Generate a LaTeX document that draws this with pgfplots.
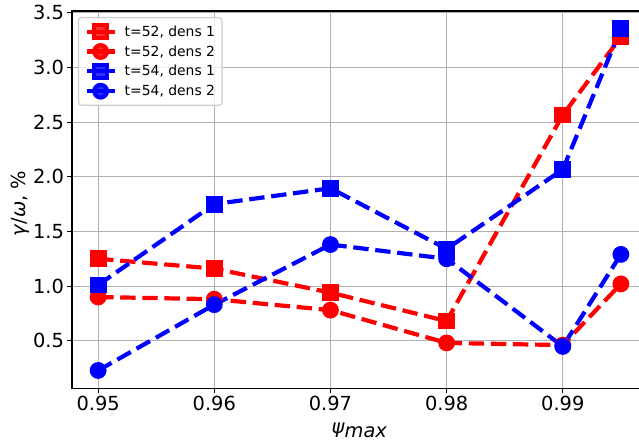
\documentclass[border=0pt]{standalone}
\usepackage{fontspec}
\setmainfont{DejaVu Sans}
\usepackage{pgfplots}
\pgfplotsset{compat=1.18}
\definecolor{gridc}{HTML}{B0B0B0}
\definecolor{legc}{HTML}{CCCCCC}
\newcommand{\lf}{\fontsize{13.9}{16}\selectfont}
\begin{document}
\begin{tikzpicture}
\begin{axis}[
  at={(0,0)}, anchor=south west,
  scale only axis, width=575pt, height=377.5pt,
  xmin=0.94775, xmax=0.99725, ymin=0.063, ymax=3.517,
  xtick={0.95,0.96,0.97,0.98,0.99},
  xticklabels={0.95,0.96,0.97,0.98,0.99},
  ytick={0.5,1.0,1.5,2.0,2.5,3.0,3.5},
  yticklabels={0.5,1.0,1.5,2.0,2.5,3.0,3.5},
  xtick pos=left, ytick pos=left,
  tick align=outside, major tick length=4.9pt,
  tick style={black, line width=1.1pt},
  axis line style={line width=1.1pt},
  grid=major, grid style={gridc, line width=1.1pt},
  ticklabel style={font=\fontsize{19.4}{23}\selectfont, inner sep=3pt},
  xlabel={\textit{ψ}$_{\textit{max}}$},
  ylabel={\textit{γ}/\textit{ω}, \%},
  label style={font=\fontsize{19.4}{23}\selectfont},
  xlabel style={at={(axis description cs:0.5,0)}, anchor=north, yshift=-34pt, inner sep=0pt},
  ylabel style={at={(axis description cs:-0.073,0.49)}, anchor=south, inner sep=0pt},
  every axis plot/.append style={line width=4.2pt, dash pattern=on 15.4pt off 6.7pt, mark size=6.3pt, mark options={solid}},
  legend style={at={(0.0104,0.984)}, anchor=north west, font=\lf,
    draw=legc, line width=1.1pt, rounded corners=3pt, fill=white, fill opacity=0.8, text opacity=1,
    inner xsep=5pt, inner ysep=6pt, row sep=3.8pt},
  legend cell align=left,
  legend image code/.code={\draw[solid, mark repeat=2, mark phase=2] plot coordinates {(0pt,0pt) (14pt,0pt) (28pt,0pt)};
    \path (-1pt,0pt) (34pt,0pt);},
]
\addplot[red, mark=square*] coordinates {(0.95,1.25)(0.96,1.16)(0.97,0.94)(0.98,0.68)(0.99,2.565)(0.995,3.28)};
\addlegendentry{\lf t=52, dens 1}
\addplot[red, mark=*] coordinates {(0.95,0.90)(0.96,0.88)(0.97,0.78)(0.98,0.48)(0.99,0.46)(0.995,1.02)};
\addlegendentry{\lf t=52, dens 2}
\addplot[blue, mark=square*] coordinates {(0.95,1.01)(0.96,1.75)(0.97,1.895)(0.98,1.34)(0.99,2.067)(0.995,3.355)};
\addlegendentry{\lf t=54, dens 1}
\addplot[blue, mark=*] coordinates {(0.95,0.228)(0.96,0.83)(0.97,1.38)(0.98,1.25)(0.99,0.448)(0.995,1.29)};
\addlegendentry{\lf t=54, dens 2}
\end{axis}
\pgfresetboundingbox
\useasboundingbox (-72pt,-54.5pt) rectangle (567pt,388.5pt);
\end{tikzpicture}
\end{document}
